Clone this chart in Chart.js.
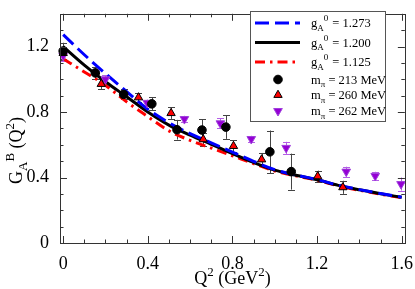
<!DOCTYPE html>
<html>
<head>
<meta charset="utf-8">
<script src="https://cdn.jsdelivr.net/npm/chart.js@4"></script>
<style>
  html, body { margin: 0; padding: 0; background: #fff; }
</style>
</head>
<body>
<canvas id="chart" width="415" height="289"></canvas>
<script>
// fit curves, Q^2 in GeV^2
const curveQ2 = [0, 0.1, 0.2, 0.3, 0.4, 0.5, 0.6, 0.7, 0.8, 0.9, 1.0, 1.1, 1.2, 1.3, 1.4, 1.5, 1.6];
const curveG1273 = [1.273, 1.150, 1.035, 0.925, 0.817, 0.735, 0.668, 0.612, 0.555, 0.499, 0.448, 0.415, 0.388, 0.353, 0.326, 0.302, 0.280];
const curveG1200 = [1.200, 1.087, 0.985, 0.893, 0.800, 0.720, 0.659, 0.603, 0.546, 0.492, 0.445, 0.414, 0.386, 0.352, 0.325, 0.301, 0.279];
const curveG1125 = [1.125, 1.045, 0.963, 0.862, 0.772, 0.685, 0.627, 0.580, 0.533, 0.485, 0.440, 0.410, 0.383, 0.349, 0.322, 0.298, 0.276];
const gA0Labels = ['1.273', '1.200', '1.125'];

// lattice points
const q2_213 = [0, 0.152, 0.286, 0.419, 0.538, 0.656, 0.769, 0.977, 1.078];
const ga_213 = [1.173, 1.039, 0.908, 0.850, 0.692, 0.690, 0.708, 0.557, 0.436];
const err_213 = [0.05, 0.035, 0.03, 0.04, 0.06, 0.065, 0.072, 0.13, 0.11];

const q2_260 = [0, 0.180, 0.356, 0.510, 0.662, 0.805, 0.938, 1.203, 1.322];
const ga_260 = [1.160, 0.971, 0.889, 0.793, 0.633, 0.592, 0.510, 0.407, 0.340];
const err_260 = [0.04, 0.03, 0.025, 0.035, 0.04, 0.035, 0.04, 0.035, 0.04];

const q2_262 = [0, 0.200, 0.397, 0.573, 0.743, 0.889, 1.054, 1.338, 1.475, 1.597];
const ga_262 = [1.144, 1.000, 0.856, 0.757, 0.731, 0.635, 0.581, 0.436, 0.410, 0.360];
const err_262 = [0.03, 0.025, 0.02, 0.02, 0.03, 0.02, 0.037, 0.03, 0.025, 0.04];

const pionMasses = [213, 260, 262];

const xTicks = [0, 0.4, 0.8, 1.2, 1.6];
const yTicks = [0, 0.4, 0.8, 1.2];

const serif = '"Liberation Serif", "DejaVu Serif", serif';
const violet = '#9400d3';

function pts(xs, ys) {
  return xs.map((x, i) => ({ x: x, y: ys[i] }));
}

// draws a string made of normal / sub / sup pieces, returns end x
function richText(ctx, parts, x, y, size) {
  parts.forEach(p => {
    let s = size, dy = 0;
    if (p.sub) { s = size * 0.72; dy = size * 0.28; }
    if (p.sup) { s = size * 0.72; dy = -size * 0.45; }
    ctx.font = s + 'px ' + serif;
    ctx.fillText(p.t, x, y + dy);
    x += ctx.measureText(p.t).width + (p.gap || 0);
  });
  return x;
}

const errorBars = {
  id: 'errorBars',
  beforeDatasetsDraw(chart) {
    const ctx = chart.ctx;
    const ys = chart.scales.y;
    chart.data.datasets.forEach((ds, i) => {
      if (!ds.errors) return;
      const meta = chart.getDatasetMeta(i);
      ctx.save();
      ctx.strokeStyle = ds.errorColor;
      ctx.lineWidth = 1;
      meta.data.forEach((el, j) => {
        const v = ds.data[j].y, e = ds.errors[j];
        const top = ys.getPixelForValue(v + e), bot = ys.getPixelForValue(v - e);
        const x = Math.round(el.x) + 0.5;
        ctx.beginPath();
        ctx.moveTo(x, top); ctx.lineTo(x, bot);
        ctx.moveTo(x - 3.5, Math.round(top) + 0.5); ctx.lineTo(x + 3.5, Math.round(top) + 0.5);
        ctx.moveTo(x - 3.5, Math.round(bot) + 0.5); ctx.lineTo(x + 3.5, Math.round(bot) + 0.5);
        ctx.stroke();
      });
      ctx.restore();
    });
  }
};

// frame with inward ticks on all four sides, plus titles and legend
const decor = {
  id: 'decor',
  afterDraw(chart) {
    const ctx = chart.ctx;
    const a = chart.chartArea;
    const xs = chart.scales.x, ys = chart.scales.y;
    ctx.save();
    ctx.strokeStyle = '#333';
    ctx.lineWidth = 1;
    ctx.strokeRect(Math.round(a.left) + 0.5, Math.round(a.top) + 0.5,
      Math.round(a.right - a.left), Math.round(a.bottom - a.top));
    ctx.beginPath();
    for (let k = 0; k <= 16; k++) {
      const v = k / 10;
      const len = (k % 4 === 0) ? 7 : 3.5;
      const px = Math.round(xs.getPixelForValue(v)) + 0.5;
      ctx.moveTo(px, a.bottom); ctx.lineTo(px, a.bottom - len);
      ctx.moveTo(px, a.top); ctx.lineTo(px, a.top + len);
    }
    for (let k = 0; k <= 14; k++) {
      const v = k / 10;
      const len = (k % 4 === 0) ? 7 : 3.5;
      const py = Math.round(ys.getPixelForValue(v)) + 0.5;
      ctx.moveTo(a.left, py); ctx.lineTo(a.left + len, py);
      ctx.moveTo(a.right, py); ctx.lineTo(a.right - len, py);
    }
    ctx.stroke();

    // axis titles
    ctx.fillStyle = '#000';
    ctx.textBaseline = 'alphabetic';
    ctx.textAlign = 'left';
    const xt = [{ t: 'Q' }, { t: '2', sup: true }, { t: ' (GeV' }, { t: '2', sup: true }, { t: ')' }];
    let w = richText(ctx, xt, 0, -1000, 18);
    const cx = (a.left + a.right) / 2;
    richText(ctx, xt, cx - w / 2, 284, 18);

    const yt = [{ t: 'G' }, { t: 'A', sub: true }, { t: 'B', sup: true }, { t: ' (Q' }, { t: '2', sup: true }, { t: ')' }];
    w = richText(ctx, yt, 0, -1000, 18);
    ctx.save();
    ctx.translate(22, (a.top + a.bottom) / 2 + 22);
    ctx.rotate(-Math.PI / 2);
    richText(ctx, yt, -w / 2, 0, 18);
    ctx.restore();

    // legend
    const lx = 250, ly = 11, lw = 135, lh = 110;
    ctx.fillStyle = '#fff';
    ctx.fillRect(lx, ly, lw, lh);
    ctx.strokeStyle = '#555';
    ctx.strokeRect(lx + 0.5, ly + 0.5, lw, lh);
    const rows = [23, 42.5, 62, 79.5, 95, 111];
    const ds = chart.data.datasets;
    const curveSets = [ds[3], ds[4], ds[5]];
    const pointSets = [ds[0], ds[1], ds[2]];
    curveSets.forEach((d, i) => {
      ctx.save();
      ctx.strokeStyle = d.borderColor;
      ctx.lineWidth = d.borderWidth;
      ctx.setLineDash(d.borderDash || []);
      ctx.beginPath();
      ctx.moveTo(255, rows[i]); ctx.lineTo(300, rows[i]);
      ctx.stroke();
      ctx.restore();
      ctx.fillStyle = '#000';
      richText(ctx, [{ t: 'g' }, { t: 'A', sub: true }, { t: '0', sup: true, gap: 1 }, { t: ' = ' + gA0Labels[i] }],
        311, rows[i] + 4, 12.5);
    });
    pointSets.forEach((d, i) => {
      const y = rows[i + 3];
      ctx.save();
      ctx.fillStyle = d.pointBackgroundColor;
      ctx.strokeStyle = d.pointBorderColor;
      ctx.lineWidth = d.pointBorderWidth;
      Chart.helpers.drawPoint(ctx, {
        pointStyle: d.pointStyle, rotation: d.pointRotation || 0, radius: d.pointRadius, borderWidth: d.pointBorderWidth
      }, 278, y);
      ctx.restore();
      ctx.fillStyle = '#000';
      richText(ctx, [{ t: 'm' }, { t: 'π', sub: true }, { t: ' = ' + pionMasses[i] + ' MeV' }], 311, y + 4, 12.5);
    });
    ctx.restore();
  }
};

new Chart(document.getElementById('chart'), {
  type: 'scatter',
  data: {
    datasets: [
      {
        label: 'm_pi = ' + pionMasses[0] + ' MeV',
        data: pts(q2_213, ga_213), errors: err_213, errorColor: '#444',
        pointStyle: 'circle', pointRadius: 4.3, pointBorderWidth: 1,
        pointBackgroundColor: '#000', pointBorderColor: '#000', clip: false
      },
      {
        label: 'm_pi = ' + pionMasses[1] + ' MeV',
        data: pts(q2_260, ga_260), errors: err_260, errorColor: '#444',
        pointStyle: 'triangle', pointRadius: 4.8, pointBorderWidth: 1,
        pointBackgroundColor: '#ff0000', pointBorderColor: '#000', clip: false
      },
      {
        label: 'm_pi = ' + pionMasses[2] + ' MeV',
        data: pts(q2_262, ga_262), errors: err_262, errorColor: '#b45ee6',
        pointStyle: 'triangle', pointRotation: 180, pointRadius: 5, pointBorderWidth: 1,
        pointBackgroundColor: violet, pointBorderColor: '#a040dd', clip: false
      },
      {
        label: 'gA0 = ' + gA0Labels[0],
        data: pts(curveQ2, curveG1273), showLine: true, pointRadius: 0,
        borderColor: '#0000ff', borderWidth: 3, borderDash: [14, 6],
        cubicInterpolationMode: 'monotone'
      },
      {
        label: 'gA0 = ' + gA0Labels[1],
        data: pts(curveQ2, curveG1200), showLine: true, pointRadius: 0,
        borderColor: '#000000', borderWidth: 3,
        cubicInterpolationMode: 'monotone'
      },
      {
        label: 'gA0 = ' + gA0Labels[2],
        data: pts(curveQ2, curveG1125), showLine: true, pointRadius: 0,
        borderColor: '#ff0000', borderWidth: 3, borderDash: [10, 5, 2.5, 5],
        cubicInterpolationMode: 'monotone'
      }
    ]
  },
  options: {
    responsive: false,
    animation: false,
    devicePixelRatio: 1,
    layout: { padding: { top: 1, right: 8, left: 0, bottom: 0 } },
    plugins: { legend: { display: false }, tooltip: { enabled: false } },
    scales: {
      x: {
        type: 'linear', min: -0.015, max: 1.615,
        grid: { display: false }, border: { display: false },
        afterBuildTicks: axis => { axis.ticks = xTicks.map(v => ({ value: v })); },
        afterFit: axis => { axis.height = 46; },
        ticks: {
          padding: 2, color: '#000', maxRotation: 0,
          font: { family: serif, size: 18 },
          callback: v => v === 0 ? '0' : v.toFixed(1)
        }
      },
      y: {
        type: 'linear', min: 0, max: 1.4,
        grid: { display: false }, border: { display: false },
        afterBuildTicks: axis => { axis.ticks = yTicks.map(v => ({ value: v })); },
        afterFit: axis => { axis.width = 60; },
        ticks: {
          padding: 3, color: '#000',
          font: { family: serif, size: 18 },
          callback: v => v === 0 ? '0' : v.toFixed(1)
        }
      }
    }
  },
  plugins: [errorBars, decor]
});
</script>
</body>
</html>
